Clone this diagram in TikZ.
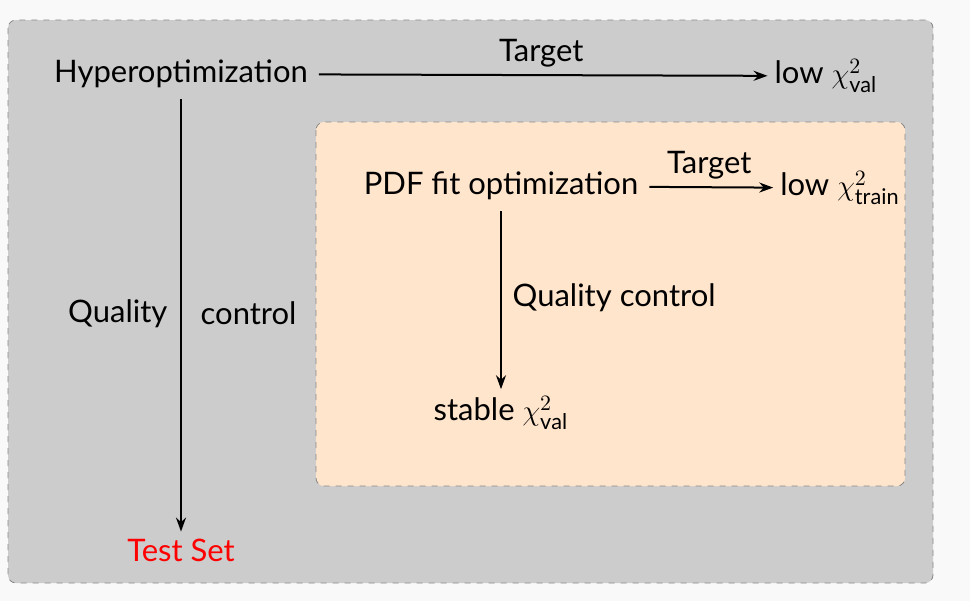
\documentclass[tikz,border=0pt]{standalone}
\usepackage{fontspec}
\setmainfont{Lato}
\usetikzlibrary{arrows.meta}
\definecolor{pagebg}{HTML}{F9F9F9}
\definecolor{outerbg}{HTML}{CCCCCC}
\definecolor{innerbg}{HTML}{FFE5CC}
\definecolor{framegray}{HTML}{888888}
\begin{document}
\begin{tikzpicture}[x=0.5pt, y=-0.5pt, font=\fontsize{15.5}{18}\selectfont,
  panel/.style={draw=framegray, dashed, rounded corners=4pt},
  flow/.style={-{Stealth[length=7pt,width=5pt]}, line width=1pt, shorten <=2pt}]
\fill[pagebg] (0,0) rectangle (970,601);
\useasboundingbox (0,0) rectangle (970,601);
\draw[panel, fill=outerbg] (8,20) rectangle (933,583);
\draw[panel, fill=innerbg] (316,122) rectangle (905,486);
\node (hyper) at (181,74) {Hyperoptimization};
\node (lowval) at (826,76) {low $\chi^2_{\mathrm{val}}$};
\node[text=red] (testset) at (181,550) {Test Set};
\node (pdffit) at (501,186) {PDF fit optimization};
\node (lowtrain) at (840,188) {low $\chi^2_{\mathrm{train}}$};
\node (stable) at (501,413) {stable $\chi^2_{\mathrm{val}}$};
\draw[flow] (hyper) -- node[above] {Target} (lowval);
\draw[flow] (hyper) -- node[left, xshift=-3pt] {Quality} node[right, xshift=6pt] {control} (testset);
\draw[flow] (pdffit) -- node[above] {Target} (lowtrain);
\draw[flow] (pdffit) -- node[right, xshift=2pt] {Quality control} (stable);
\end{tikzpicture}
\end{document}
